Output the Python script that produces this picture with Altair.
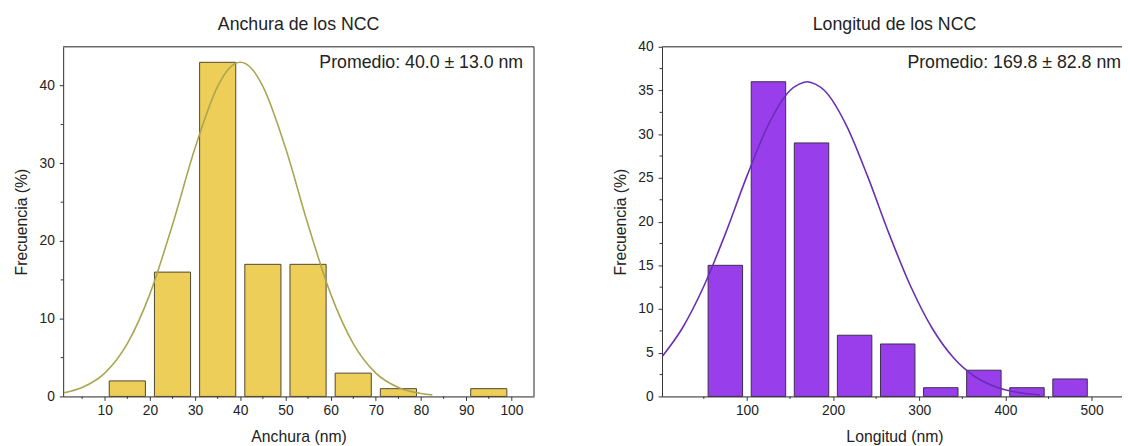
import altair as alt
import pandas as pd

FONT = "Liberation Sans"
TXT = "#222222"
AX = "#333333"

# ---------------- data: width (Anchura) ----------------
w_bin_start = [10, 20, 30, 40, 50, 60, 70, 80, 90]
w_bin_end = [20, 30, 40, 50, 60, 70, 80, 90, 100]
w_freq = [2, 16, 43, 17, 17, 3, 1, 0, 1]

w_curve_x = [1, 5, 10, 15, 20, 25, 30, 35, 37.5, 40, 42.5, 45, 50, 55, 60, 65, 70, 75, 80, 82.5]
w_curve_y = [0.48, 1.15, 3.0, 6.8, 13.2, 22.1, 32.0, 39.9, 42.2, 43.0, 42.2, 39.9, 32.0, 22.1, 13.2, 6.8, 3.0, 1.15, 0.38, 0.2]

w_xticks = [10, 20, 30, 40, 50, 60, 70, 80, 90, 100]
w_xminor = [5, 15, 25, 35, 45, 55, 65, 75, 85, 95]
w_yticks = [0, 10, 20, 30, 40]
w_yminor = [5, 15, 25, 35]

# ---------------- data: length (Longitud) ----------------
l_bin_start = [50, 100, 150, 200, 250, 300, 350, 400, 450]
l_bin_end = [100, 150, 200, 250, 300, 350, 400, 450, 500]
l_freq = [15, 36, 29, 7, 6, 1, 3, 1, 2]

l_curve_x = [2, 25, 50, 75, 100, 125, 150, 160, 170, 180, 190, 215, 240, 265, 290, 315, 340, 365, 390, 415, 440]
l_curve_y = [4.6, 7.8, 12.6, 18.6, 25.2, 31.1, 35.0, 35.7, 36.0, 35.7, 35.0, 31.1, 25.2, 18.6, 12.6, 7.8, 4.4, 2.25, 1.05, 0.45, 0.18]

l_xticks = [100, 200, 300, 400, 500]
l_xminor = [50, 150, 250, 350, 450]
l_yticks = [0, 5, 10, 15, 20, 25, 30, 35, 40]
l_yminor = [2.5, 7.5, 12.5, 17.5, 22.5, 27.5, 32.5, 37.5]

w_note = "Promedio: 40.0 \u00b1 13.0 nm"
l_note = "Promedio: 169.8 \u00b1 82.8 nm"

H = 355


def bars_df(starts, ends, freq):
    lo = [s + 0.1 * (e - s) for s, e in zip(starts, ends)]
    hi = [e - 0.1 * (e - s) for s, e in zip(starts, ends)]
    return pd.DataFrame({"lo": lo, "hi": hi, "freq": freq, "base": [0] * len(freq)})


def make_axis(values, title, label_pad, title_pad):
    return alt.Axis(
        values=values, tickSize=4, grid=False, title=title,
        labelOverlap=False, labelFlush=False, format="d",
        labelFontSize=14, titleFontSize=16, labelPadding=label_pad, titlePadding=title_pad,
        labelFont=FONT, titleFont=FONT, labelColor=TXT, titleColor=TXT,
        titleFontWeight="normal", domainColor=AX, tickColor=AX,
    )


def panel(starts, ends, freq, cx, cy, xdom, ydom, xt, xm, yt, ym,
          xtitle, fill, stroke, curve_color, note, width, title, right_frame, note_x,
          title_offset):
    xs = alt.Scale(domain=xdom, nice=False, zero=False)
    ys = alt.Scale(domain=ydom, nice=False, zero=False)
    bdf = bars_df(starts, ends, freq)
    bars = alt.Chart(bdf).transform_filter("datum.freq > 0").mark_rect(
        fill=fill, stroke=stroke, strokeWidth=1
    ).encode(
        x=alt.X("lo:Q", scale=xs, axis=make_axis(xt, xtitle, 3, 12)),
        x2="hi:Q",
        y=alt.Y("freq:Q", scale=ys, axis=make_axis(yt, "Frecuencia (%)", 5, 10)),
        y2="base:Q",
    )
    cdf = pd.DataFrame({"x": cx, "y": cy})
    curve = alt.Chart(cdf).mark_line(
        interpolate="monotone", color=curve_color, strokeWidth=1.6, clip=True
    ).encode(x="x:Q", y="y:Q")
    xminor = alt.Chart(pd.DataFrame({"m": xm})).mark_rule(color=AX, strokeWidth=1).encode(
        x="m:Q", y=alt.value(H), y2=alt.value(H + 2.5)
    )
    yminor = alt.Chart(pd.DataFrame({"m": ym})).mark_rule(color=AX, strokeWidth=1).encode(
        y="m:Q", x=alt.value(0), x2=alt.value(-2.5)
    )
    top = alt.Chart().mark_rule(color=AX, strokeWidth=1).encode(
        y=alt.value(0), x=alt.value(0), x2=alt.value(width)
    )
    layers = [bars, curve, xminor, yminor, top]
    if right_frame:
        rf = alt.Chart().mark_rule(color=AX, strokeWidth=1).encode(
            x=alt.value(width), y=alt.value(0), y2=alt.value(H)
        )
        layers.append(rf)
    txt = alt.Chart().mark_text(
        align="right", baseline="alphabetic", fontSize=18, font=FONT, color=TXT, text=note
    ).encode(x=alt.value(note_x), y=alt.value(22))
    layers.append(txt)
    return alt.layer(*layers).properties(
        width=width, height=H,
        title=alt.TitleParams(title, fontSize=18, font=FONT, fontWeight="normal",
                              color=TXT, offset=title_offset, anchor="middle", frame="group"),
    )


left = panel(
    w_bin_start, w_bin_end, w_freq, w_curve_x, w_curve_y,
    [0.8, 105], [0, 45], w_xticks, w_xminor, w_yticks, w_yminor,
    "Anchura (nm)", "#ECCE58", "#4f4630", "#ABA552", w_note, 478, "Anchura de los NCC",
    True, 467, 13,
)

right = panel(
    l_bin_start, l_bin_end, l_freq, l_curve_x, l_curve_y,
    [1.5, 541], [0, 40], l_xticks, l_xminor, l_yticks, l_yminor,
    "Longitud (nm)", "#993EEB", "#3b2d4a", "#6A2DB5", l_note, 472, "Longitud de los NCC",
    False, 466, 6,
)

chart = alt.hconcat(left, right, spacing=130, bounds="flush").properties(
    padding={"left": 4, "top": 4, "right": -6, "bottom": 0}
).configure_view(stroke=None).configure(background="white")

chart.save("out.html", embed_options={"renderer": "svg", "actions": False})
